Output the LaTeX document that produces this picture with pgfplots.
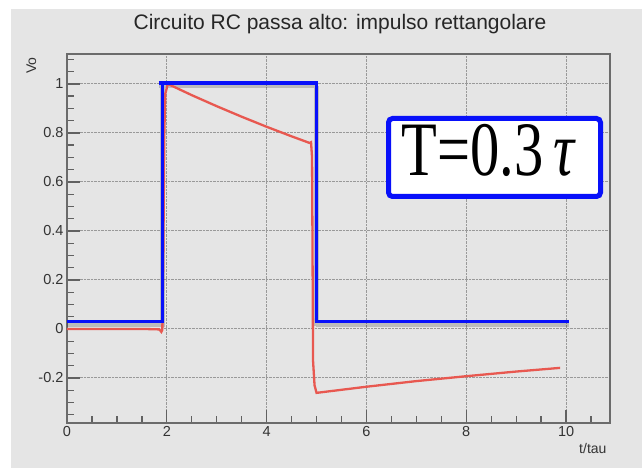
\documentclass[border=0pt]{standalone}
\usepackage{fontspec}
\setmainfont{Liberation Sans}
\newfontfamily\boxfont{Liberation Serif}
\usepackage{graphicx}
\usepackage{pgfplots}
\pgfplotsset{compat=1.18}

\definecolor{panel}{RGB}{229,229,229}
\definecolor{sigred}{RGB}{232,88,80}
\definecolor{sqblue}{RGB}{8,16,250}

% output voltage of the RC high-pass
\pgfplotstableread{
t      v
0.00   0.000
1.50   0.000
1.85  -0.002
1.89  -0.012
1.91  -0.004
1.93   0.300
1.95   0.800
1.97   0.960
2.02   1.000
2.50   0.954
3.00   0.909
3.50   0.866
4.00   0.825
4.50   0.786
4.86   0.759
4.89   0.762
4.91   0.700
4.92   0.300
4.93  -0.130
4.96  -0.230
5.00  -0.261
6.00  -0.236
7.00  -0.213
8.00  -0.193
9.00  -0.174
9.88  -0.159
}\vout

% ideal input pulse (hand-drawn overlay)
\pgfplotstableread{
t      v
0.00   0.030
1.91   0.030
1.91   1.004
nan    nan
1.84   1.004
5.02   1.004
nan    nan
5.00   1.004
5.00   0.025
nan    nan
4.98   0.031
10.06  0.031
}\vin

\begin{document}
\begin{tikzpicture}[x=1pt,y=1pt]
\fill[white] (0,0) rectangle (642,469);
\fill[panel] (11,1) rectangle (642,460);
\node[font=\fontsize{21}{24}\selectfont, text=black!85, anchor=base] at (340,439)
  {Circuito RC passa alto: impulso rettangolare};

\begin{axis}[
    at={(67pt,46pt)}, anchor=south west,
    scale only axis, width=543pt, height=369pt,
    xmin=0, xmax=10.88, ymin=-0.384, ymax=1.122,
    axis background/.style={fill=panel},
    axis line style={draw=black!58, line width=1.6pt},
    tick style={draw=black!62, line width=1.3pt},
    major tick length=13pt, minor tick length=7pt,
    tick pos=left, tick align=inside,
    xtick={0,2,4,6,8,10},
    ytick={-0.2,0,0.2,0.4,0.6,0.8,1},
    minor xtick={0.5,1,...,10.5},
    minor ytick={-0.35,-0.3,...,1.1},
    grid=major,
    major grid style={densely dotted, black!40, line width=0.9pt},
    /pgf/number format/assume math mode=true,
    ticklabel style={font=\fontsize{14.5}{16}\selectfont, text=black!80},
    xlabel={t/tau}, ylabel={Vo},
    every axis x label/.style={at={(axis description cs:1,-0.084)}, anchor=base east,
      font=\fontsize{14}{16}\selectfont, text=black!80},
    every axis y label/.style={at={(axis description cs:-0.057,1)}, anchor=base east,
      rotate=90, font=\fontsize{14}{16}\selectfont, text=black!80},
    unbounded coords=jump,
  ]
  \addplot[black, opacity=0.18, line width=5pt, yshift=-3pt, forget plot] table[x=t,y=v] {\vin};
  \addplot[sigred, line width=2.3pt] table[x=t,y=v] {\vout};
  \addplot[sqblue, line width=3.5pt] table[x=t,y=v] {\vin};
\end{axis}

\draw[sqblue, line width=5pt, fill=white, rounded corners=4pt]
  (388.5,272.5) rectangle (600.5,350.5);
\node[anchor=center, inner sep=0] at (489,318.5)
  {\boxfont\fontsize{77}{80}\selectfont\scalebox{0.76}[1]{T=0.3\,\textit{τ}}};
\end{tikzpicture}
\end{document}
